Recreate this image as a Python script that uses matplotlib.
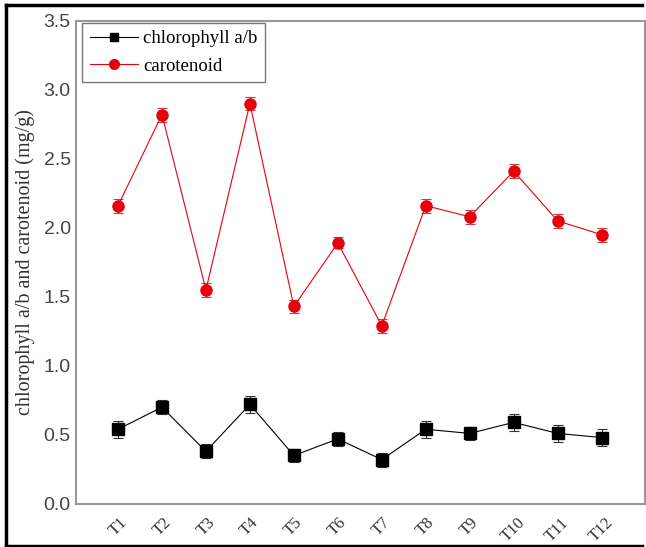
import matplotlib
matplotlib.use("Agg")
import matplotlib.pyplot as plt
from matplotlib.lines import Line2D

# data
treatments = ["T1", "T2", "T3", "T4", "T5", "T6", "T7", "T8", "T9", "T10", "T11", "T12"]
chl_ab = [0.54, 0.70, 0.38, 0.72, 0.35, 0.47, 0.32, 0.54, 0.51, 0.59, 0.51, 0.48]
chl_ab_err = [0.06, 0.05, 0.05, 0.06, 0.05, 0.05, 0.05, 0.06, 0.05, 0.06, 0.06, 0.06]
carot = [2.16, 2.82, 1.55, 2.90, 1.43, 1.89, 1.29, 2.16, 2.08, 2.41, 2.05, 1.95]
carot_err = [0.05, 0.05, 0.05, 0.05, 0.05, 0.04, 0.05, 0.05, 0.05, 0.05, 0.05, 0.05]

serif = ["Liberation Serif", "DejaVu Serif"]
sans = ["Liberation Sans", "DejaVu Sans"]


def main():
    fig = plt.figure(figsize=(6.46, 5.47), dpi=100)
    ax = fig.add_axes([0.118, 0.079, 0.880, 0.883])

    x = list(range(1, len(treatments) + 1))

    ax.errorbar(x, chl_ab, yerr=chl_ab_err, color="black", ecolor="#333333",
                marker="s", markersize=8.5, linewidth=0.8, elinewidth=0.8,
                capsize=3.5, capthick=0.8)
    ax.errorbar(x, carot, yerr=carot_err, color="#e8000b", ecolor="#c04040",
                marker="o", markersize=8, linewidth=0.8, elinewidth=0.8,
                capsize=3.5, capthick=0.8)

    ax.set_xlim(0.05, 12.98)
    ax.set_ylim(0, 3.5)
    ax.set_yticks([0.0, 0.5, 1.0, 1.5, 2.0, 2.5, 3.0, 3.5])
    ax.set_yticklabels(["%.1f" % v for v in ax.get_yticks()],
                       family=sans, fontsize=14, color="#444444")
    ax.set_xticks(x)
    ax.set_xticklabels(treatments, family=serif, fontsize=12, rotation=45,
                       color="#333333")
    ax.tick_params(axis="x", length=0, pad=8)
    ax.tick_params(axis="y", length=0, pad=4)

    for s in ax.spines.values():
        s.set_color("#999999")
        s.set_linewidth(1.5)

    ax.set_ylabel("chlorophyll a/b and carotenoid (mg/g)", family=serif,
                  fontsize=14.5, color="#333333", labelpad=6)

    # legend shows line + marker only, no error bar
    handles = [
        Line2D([], [], color="black", marker="s", markersize=6, linewidth=0.8),
        Line2D([], [], color="#e8000b", marker="o", markersize=7, linewidth=0.8),
    ]
    leg = ax.legend(handles, ["chlorophyll a/b", "carotenoid"], loc="upper left",
                    bbox_to_anchor=(6 / 569, 1 - 2 / 483),
                    prop={"family": serif, "size": 13.5},
                    frameon=True, fancybox=False, borderaxespad=0,
                    handlelength=2.6, handletextpad=0.25, borderpad=0.4,
                    labelspacing=0.55)
    leg.get_frame().set_edgecolor("#555555")
    leg.get_frame().set_linewidth(1.0)

    # outer black border (left, top, bottom)
    left, right, top, bottom = 6 / 646, 642 / 646, 1 - 5 / 547, 1 - 546 / 547
    for xs, ys in [([left, left], [bottom, top]),
                   ([left, right], [top, top]),
                   ([left, right], [bottom, bottom])]:
        fig.add_artist(Line2D(xs, ys, transform=fig.transFigure,
                              color="black", linewidth=2.5))

    plt.savefig("out.png", dpi=100)


if __name__ == "__main__":
    main()
